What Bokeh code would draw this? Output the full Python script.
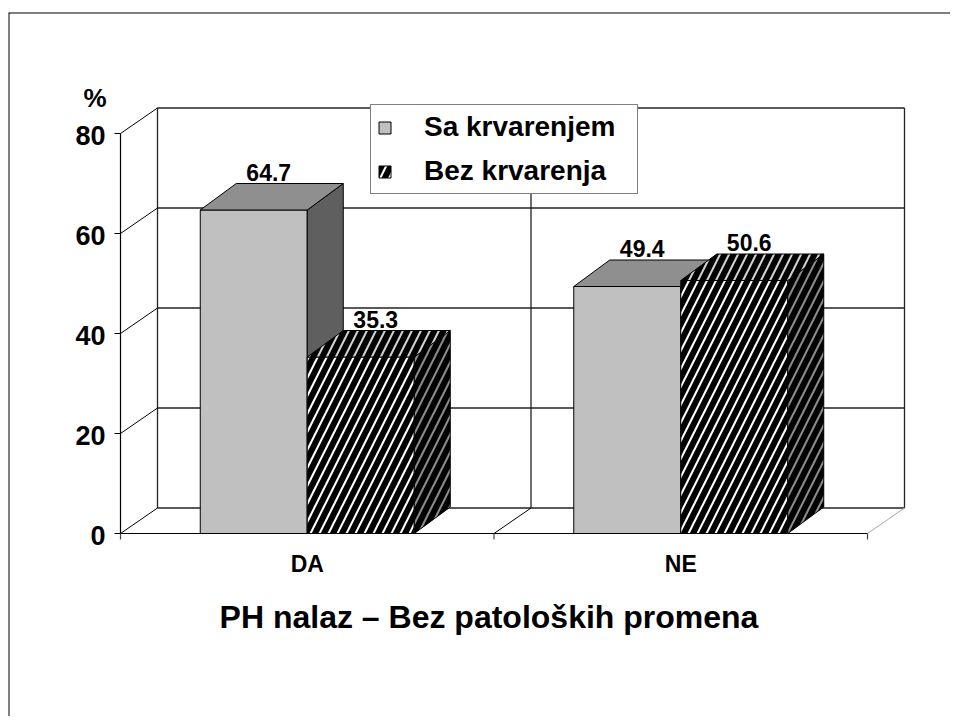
from bokeh.plotting import figure
from bokeh.models import Range1d, Legend, LegendItem, Span
from bokeh.core.properties import value
from bokeh.embed import file_html
from bokeh.resources import INLINE

# ---------------- data ----------------
categories = ["DA", "NE"]
series_names = ["Sa krvarenjem", "Bez krvarenja"]
sa_krvarenjem = [64.7, 49.4]
bez_krvarenja = [35.3, 50.6]
y_ticks = [0, 20, 40, 60, 80]
y_unit_label = "%"
x_title = "PH nalaz – Bez patoloških promena"

# ---------------- layout constants (pixels) ----------------
W, H = 950, 716
MB_LEFT, MB_TOP = 8, 12
FRAME_W = W - MB_LEFT
FRAME_H = H - MB_TOP
XS = 373.5      # px per category unit
YS = 5.0        # px per percent
X0 = 112        # px from frame left to x=0
Y0 = 183        # px from frame bottom to y=0
FONT_NAME = "Liberation Sans"
FONT = value(FONT_NAME)

wdx, wdy = 37 / XS, 25.5 / YS      # wall depth (data units)
bdx, bdy = 36 / XS, 26.5 / YS      # bar depth (data units)
bw = 107 / XS                      # bar width

n = len(categories)
ytop = y_ticks[-1]

p = figure(width=W, height=H,
           x_range=Range1d(-X0 / XS, (FRAME_W - X0) / XS),
           y_range=Range1d(-Y0 / YS, (FRAME_H - Y0) / YS),
           x_axis_type=None, y_axis_type=None,
           output_backend="svg", toolbar_location=None,
           min_border_left=MB_LEFT, min_border_right=0,
           min_border_top=MB_TOP, min_border_bottom=0)
p.outline_line_color = None
p.background_fill_color = "white"
p.border_fill_color = "white"

# outer slide border (top and left visible)
p.add_layout(Span(location=p.x_range.start, dimension="height", line_color="black", line_width=2))
p.add_layout(Span(location=p.y_range.end, dimension="width", line_color="black", line_width=2))

# ---------------- back wall ----------------
p.segment(x0=[wdx] * len(y_ticks), y0=[t + wdy for t in y_ticks],
          x1=[n + wdx] * len(y_ticks), y1=[t + wdy for t in y_ticks],
          line_color="#222222", line_width=1.3)
p.segment(x0=[k + wdx for k in range(n + 1)], y0=[wdy] * (n + 1),
          x1=[k + wdx for k in range(n + 1)], y1=[ytop + wdy] * (n + 1),
          line_color="#222222", line_width=1.3)
# left wall diagonals
p.segment(x0=[0] * len(y_ticks), y0=y_ticks,
          x1=[wdx] * len(y_ticks), y1=[t + wdy for t in y_ticks],
          line_color="black", line_width=1)
# floor diagonals
p.segment(x0=list(range(1, n)), y0=[0] * (n - 1),
          x1=[k + wdx for k in range(1, n)], y1=[wdy] * (n - 1),
          line_color="black", line_width=1)
p.segment(x0=[n], y0=[0], x1=[n + wdx], y1=[wdy], line_color="#a8a8a8", line_width=1)
# floor front edge and y axis line
p.segment(x0=[0], y0=[0], x1=[n], y1=[0], line_color="black", line_width=1.2)
p.segment(x0=[0], y0=[0], x1=[0], y1=[ytop], line_color="black", line_width=1.2)
# tick marks
p.segment(x0=[-6 / XS] * len(y_ticks), y0=y_ticks, x1=[0] * len(y_ticks), y1=y_ticks,
          line_color="black", line_width=1.2)
p.segment(x0=list(range(n + 1)), y0=[0] * (n + 1), x1=list(range(n + 1)), y1=[-6 / YS] * (n + 1),
          line_color="#444444", line_width=1.2)

# ---------------- bars ----------------
centers = [i + 0.5 for i in range(n)]

def draw_bar_series(lefts, vals, front, side, top):
    rights = [l + bw for l in lefts]
    r_front = p.quad(left=lefts, right=rights, bottom=[0] * n, top=vals, line_color="black", line_width=1, **front)
    p.patches(xs=[[r, r + bdx, r + bdx, r] for r in rights],
              ys=[[0, bdy, v + bdy, v] for v in vals],
              line_color="black", line_width=1, **side)
    p.patches(xs=[[l, l + bw, l + bw + bdx, l + bdx] for l in lefts],
              ys=[[v, v, v + bdy, v + bdy] for v in vals],
              line_color="black", line_width=1, **top)
    return r_front

r_sa = draw_bar_series([c - bw for c in centers], sa_krvarenjem,
                       dict(fill_color="#c0c0c0"),
                       dict(fill_color="#5f5f5f"),
                       dict(fill_color="#8f8f8f"))
hatch = dict(hatch_pattern="right_diagonal_line", hatch_scale=18, hatch_weight=6, hatch_color="black")
r_bez = draw_bar_series([c for c in centers], bez_krvarenja,
                        dict(fill_color="white", **hatch),
                        dict(fill_color="#8a8a8a", **hatch),
                        dict(fill_color="#d0d0d0", **hatch))

# ---------------- data labels ----------------
lab_x = [c - bw / 2 + 15 / XS for c in centers] + [c + bw / 2 + 15 / XS for c in centers]
lab_v = sa_krvarenjem + bez_krvarenja
p.text(x=lab_x, y=[v + bdy for v in lab_v], text=[f"{v}" for v in lab_v],
       text_font=FONT, text_font_style="bold", text_font_size="23px",
       text_align="center", text_baseline="middle", y_offset=-11.5, text_color="black")

# ---------------- axis texts ----------------
p.text(x=[0] * len(y_ticks), y=y_ticks, text=[str(t) for t in y_ticks],
       text_font=FONT, text_font_style="bold", text_font_size="27px",
       text_align="right", text_baseline="middle", x_offset=-15, y_offset=1.5, text_color="black")
p.text(x=[0], y=[ytop], text=[y_unit_label],
       text_font=FONT, text_font_style="bold", text_font_size="26px",
       text_align="center", text_baseline="middle", x_offset=-25.5, y_offset=-36, text_color="black")
p.text(x=centers, y=[0] * n, text=categories,
       text_font=FONT, text_font_style="bold", text_font_size="23px",
       text_align="center", text_baseline="middle", y_offset=30, text_color="black")
p.text(x=[n / 2], y=[0], text=[x_title],
       text_font=FONT, text_font_style="bold", text_font_size="32px",
       text_align="center", text_baseline="middle", x_offset=-5, y_offset=83.5, text_color="black")

# ---------------- legend ----------------
legend = Legend(items=[LegendItem(label=series_names[0], renderers=[r_sa]),
                       LegendItem(label=series_names[1], renderers=[r_bez])],
                location=(362, 522), orientation="vertical",
                border_line_color="black", border_line_width=1,
                background_fill_color="white", background_fill_alpha=1.0,
                label_text_font=FONT_NAME, label_text_font_style="bold", label_text_font_size="28px",
                label_text_color="black",
                glyph_width=15, glyph_height=15, padding=6, spacing=12,
                label_standoff=32, margin=0, label_width=207)
p.add_layout(legend)

open("out.html", "w").write(file_html(p, INLINE))
